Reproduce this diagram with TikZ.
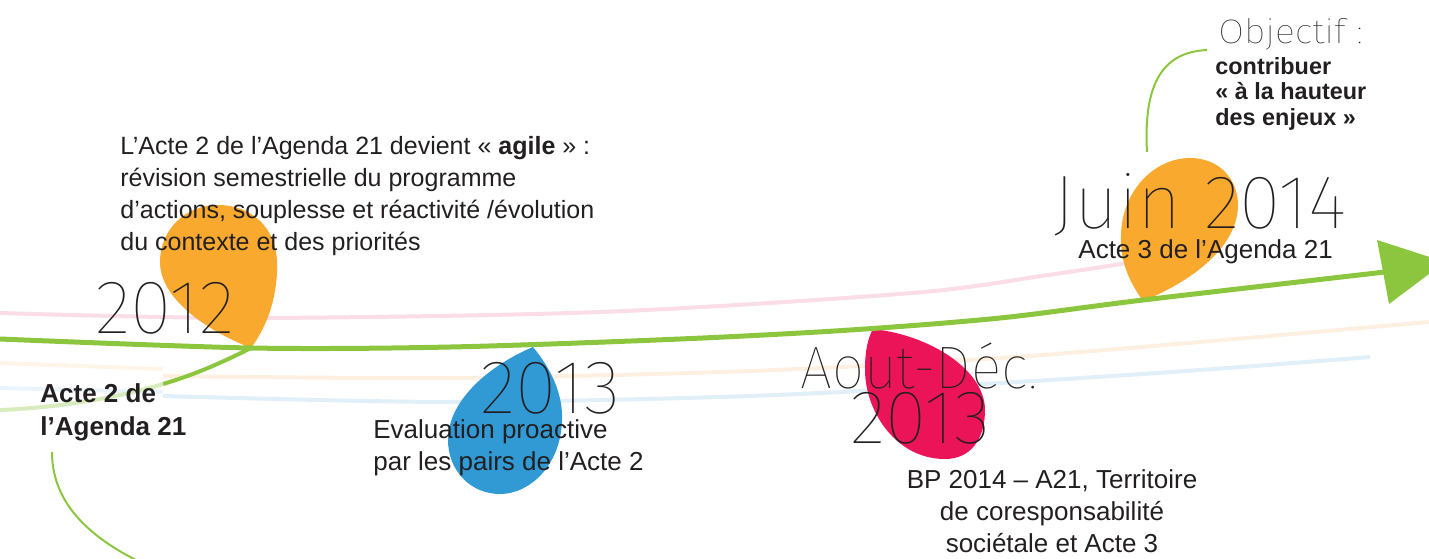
\documentclass[tikz,border=0pt]{standalone}
\usepackage{fontspec}
\setmainfont{Liberation Sans}
\newfontfamily\thinfont{Fira Sans Thin}

\definecolor{ink}{HTML}{231F20}
\definecolor{leafgreen}{HTML}{8CC63F}
\definecolor{leaforange}{HTML}{F8A92E}
\definecolor{leafblue}{HTML}{3199D4}
\definecolor{leafpink}{HTML}{EC1459}
\definecolor{faintpink}{HTML}{FADDE6}
\definecolor{faintpeach}{HTML}{FEF0E0}
\definecolor{faintblue}{HTML}{E1EFF8}

\tikzset{
  timeline/.style={draw=leafgreen, line width=2.5pt},
  thread/.style={draw=leafgreen, line width=1pt},
  faint/.style={line width=2pt},
  year/.style={font=\thinfont\fontsize{38}{38}\selectfont, text=ink, inner sep=0pt, anchor=base west},
  smallyear/.style={year, font=\thinfont\fontsize{30}{30}\selectfont},
  body/.style={font=\fontsize{13}{16}\selectfont, text=ink, inner sep=0pt, align=left, anchor=base west},
  bodybold/.style={body, font=\bfseries\fontsize{13}{16.5}\selectfont},
}

\begin{document}
\begin{tikzpicture}[x=0.5pt, y=-0.5pt]
\useasboundingbox (0,0) rectangle (1429,558);

% faint background lines
\draw[faint, faintpink] plot[smooth] coordinates {(0,313) (250,318) (600,312) (912,293) (1048,275) (1160,258)};
\draw[faint, faintpeach!70] plot[smooth] coordinates {(0,363) (163,369)};
\draw[faint, faintpeach] plot[smooth] coordinates {(163,376) (450,378) (750,371) (1000,358) (1200,342) (1429,322)};
\draw[faint, faintblue!70] plot[smooth] coordinates {(0,388) (163,392)};
\draw[faint, faintblue] plot[smooth] coordinates {(163,396) (450,402) (750,396) (1000,383) (1200,370) (1370,357)};

% leaves
\fill[leaforange] (251,348) .. controls (268,325) and (278,295) .. (277,262)
  .. controls (276,228) and (252,205) .. (218,205)
  .. controls (185,205) and (160,230) .. (160,262)
  .. controls (160,298) and (205,330) .. (251,348);
\fill[leafblue] (533,347) .. controls (552,370) and (563,395) .. (562,420)
  .. controls (561,465) and (530,494) .. (500,494)
  .. controls (470,494) and (448,470) .. (448,440)
  .. controls (448,400) and (490,365) .. (533,347);
\fill[leafpink] (873,329) .. controls (930,335) and (985,370) .. (985,410)
  .. controls (985,440) and (970,459) .. (945,459)
  .. controls (895,459) and (865,410) .. (865,370)
  .. controls (865,350) and (868,338) .. (873,329);
\fill[leaforange] (1143,301) .. controls (1128,280) and (1120,260) .. (1121,235)
  .. controls (1122,190) and (1155,158) .. (1190,158)
  .. controls (1220,158) and (1238,180) .. (1238,205)
  .. controls (1238,245) and (1195,280) .. (1143,301);

% timeline
\coordinate (start) at (0,339);
\coordinate (tip2012) at (251,348);
\coordinate (tip2014) at (1143,300);
\coordinate (head) at (1385,272);
\draw[timeline] plot[smooth] coordinates {(start) (tip2012) (450,347) (680,339) (850,330) (1000,318) (tip2014) (head)};
\fill[leafgreen] (1377,240) -- (1445,262) -- (1389,304) -- cycle;
\coordinate (bend) at (163,384);
\coordinate (fade) at (0,410);
\draw[timeline, line width=2pt] (tip2012) .. controls (215,366) and (190,376) .. (bend);
\draw[timeline, line width=2pt, leafgreen!35] (bend) .. controls (110,400) and (50,408) .. (fade);

% texts
\node[body, font=\fontsize{12.5}{16}\selectfont] (agile) at (120,250)
  {L’Acte 2 de l’Agenda 21 devient «~\textbf{agile}~» :\\
   révision semestrielle du programme\\
   d’actions, souplesse et réactivité /évolution\\
   du contexte et des priorités};
\node[year] (y2012) at (95,333) {2012};
\node[bodybold] (acte2) at (40,435) {Acte 2 de\\l’Agenda 21};
\node[year] (y2013) at (480,413) {2013};
\node[body] (eval) at (373,470) {Evaluation proactive\\par les pairs de l’Acte 2};
\node[smallyear] (aout) at (800,388) {\scalebox{0.95}[1]{Aout-Déc.}};
\node[year] (y2013b) at (850,443) {2013};
\node[body, align=center, anchor=base] (bp) at (1052,552)
  {BP 2014 – A21, Territoire\\de coresponsabilité\\sociétale et Acte 3};
\node[year] (juin) at (1053,228) {Juin 2014};
\node[body] (acte3) at (1078,258) {Acte 3 de l’Agenda 21};
\node[year, font=\thinfont\fontsize{17}{17}\selectfont] (objectif) at (1218,43) {\scalebox{1.1}[1]{Objectif :}};
\node[bodybold, font=\bfseries\fontsize{11.7}{12.7}\selectfont] (enjeux) at (1215,125)
  {contribuer\\«~à la hauteur\\des enjeux~»};

% threads
\coordinate (acte2foot) at (52,452);
\coordinate (acte2end) at (140,562);
\coordinate (juintop) at (1147,152);
\coordinate (objectifin) at (1207,50);
\draw[thread] (acte2foot) .. controls (52,500) and (85,535) .. (acte2end);
\draw[thread] (juintop) .. controls (1143,80) and (1165,52) .. (objectifin);
\end{tikzpicture}
\end{document}
